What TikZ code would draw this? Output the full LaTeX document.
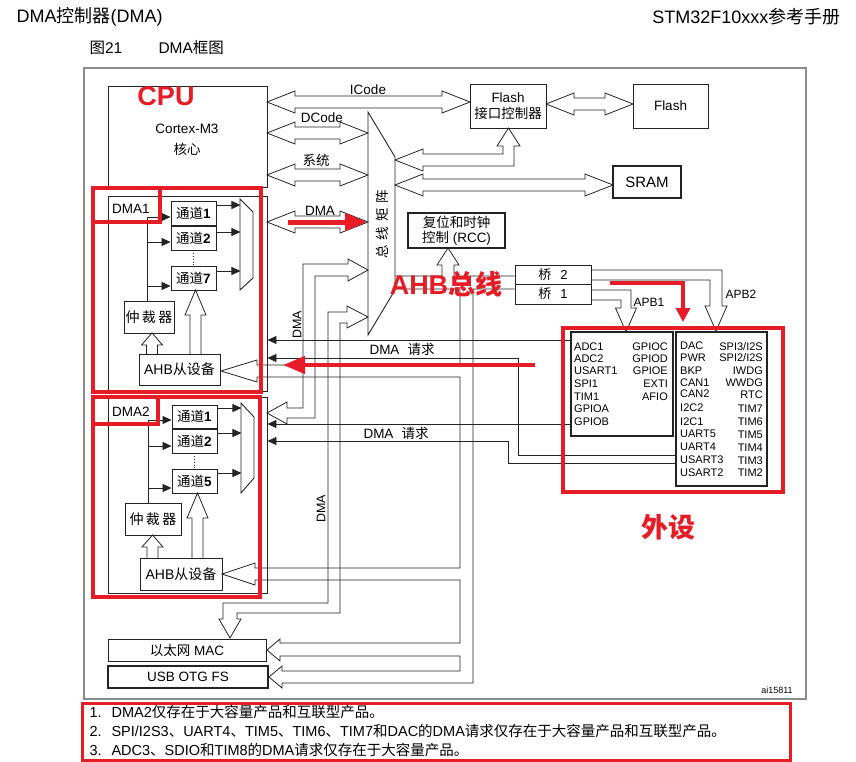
\documentclass[tikz,border=0pt]{standalone}
\usepackage{fontspec}
\setmainfont{Liberation Sans}
\newfontfamily\cjk{Noto Sans CJK SC}
\usepackage{tikz}
\usetikzlibrary{arrows.meta,positioning}
\definecolor{ink}{RGB}{35,35,35}
\definecolor{annot}{RGB}{230,28,38}
\definecolor{framegray}{RGB}{140,140,140}
\newcommand{\zh}[1]{{\cjk #1}}
\newcommand{\fsz}[1]{\fontsize{#1}{#1}\selectfont}
% hollow double arrow: left x, right x, y
\newcommand{\hdbl}[3]{\draw[bus] (#1,#3) -- ++(28,-11) -- ++(0,5) -- ({#2-28},{#3-6}) -- ++(0,-5) -- (#2,#3) -- ++(-28,11) -- ++(0,-5) -- ({#1+28},{#3+6}) -- ++(0,5) -- cycle;}
% hollow up arrow: x, bottom y, tip y, head length
\newcommand{\vup}[4]{\draw[bus] ({#1-5.5},#2) -- ({#1-5.5},{#3+#4}) -- ({#1-10.5},{#3+#4}) -- (#1,#3) -- ({#1+10.5},{#3+#4}) -- ({#1+5.5},{#3+#4}) -- ({#1+5.5},#2);}

\begin{document}
\begin{tikzpicture}[x=1pt,y=-1pt,
  box/.style={draw=ink,line width=0.9pt,inner sep=0pt},
  thickbox/.style={box,line width=1.6pt},
  bus/.style={draw=ink,line width=0.8pt,line join=miter},
  wire/.style={draw=ink,line width=0.8pt},
  ctl/.style={wire,-{Triangle[length=9pt,width=8pt]}},
  lbl/.style={font=\fsz{13.5},inner sep=0pt},
  per/.style={font=\fsz{11},inner sep=0pt},
  redline/.style={draw=annot,line width=3.5pt},
  redlbl/.style={text=annot,font=\fsz{27}\bfseries,inner sep=0pt}]
\useasboundingbox (0,0) rectangle (856,762);

% page header
\node[anchor=west,font=\fsz{18}] (headl) at (13,16.5) {DMA\zh{控制器}(DMA)};
\node[anchor=east,font=\fsz{18}] (headr) at (844,16.5) {STM32F10xxx\zh{参考手册}};
\node[anchor=west,font=\fsz{15.5}] (fignum) at (86,48) {\zh{图}21};
\node[anchor=west,font=\fsz{15.5}] (figttl) at (155,48) {DMA\zh{框图}};
\draw[framegray,line width=1.5pt] (84,68) rectangle (806,699);

% core, memories, matrix
\node[box,minimum width=159pt,minimum height=101pt] (cortex) at (187.5,136.5) {};
\node[lbl,align=center] (cortextxt) at (187,140) {Cortex-M3\\[8pt]\zh{核心}};
\node[box,minimum width=76pt,minimum height=44pt,align=center,font=\fsz{13.5}] (flashif) at (508,106) {Flash\\[3pt]\zh{接口控制器}};
\node[box,minimum width=75pt,minimum height=44pt,font=\fsz{13.5}] (flash) at (670.5,106) {Flash};
\node[thickbox,minimum width=68pt,minimum height=32pt,font=\fsz{15}] (sram) at (647,182) {SRAM};
\node[thickbox,minimum width=97pt,minimum height=35pt,align=center,font=\fsz{13.5}] (rcc) at (456.5,230.5) {\zh{复位和时钟}\\[2pt]\zh{控制} (RCC)};
\node[box,minimum width=76pt,minimum height=19pt,font=\fsz{13}] (bridge2) at (553,274.5) {\zh{桥}\hspace{9pt}2};
\node[box,minimum width=76pt,minimum height=20pt,font=\fsz{13}] (bridge1) at (553,294) {\zh{桥}\hspace{9pt}1};
\draw[box] (368,112) -- (395,157) -- (395,290) -- (368,335) -- cycle;
\node[lbl,rotate=90] (matrix) at (382,224) {\zh{总\hspace{5pt}线\hspace{5pt}矩\hspace{5pt}阵}};

\hdbl{267}{470}{102}
\hdbl{267}{368}{133}
\hdbl{267}{368}{175}
\hdbl{267}{368}{222}
\hdbl{546}{633}{104}
\hdbl{395}{613}{185}
\node[lbl] (icode) at (368,90) {ICode};
\node[lbl] (dcode) at (322,118) {DCode};
\node[lbl] (sysbus) at (316,160) {\zh{系统}};
\node[lbl] (dmabus) at (320,211) {DMA};
\draw[bus] (395,160) -- (423,149) -- (423,154) -- (503,154) -- (503,146) -- (497,146) -- (508.5,128) -- (520,146) -- (514,146) -- (514,166) -- (423,166) -- (423,171) -- cycle;

% AHB bus, RCC and bridges
\draw[bus] (395,276) -- (442,276) -- (442,265) -- (437,265) -- (448,248) -- (459,265) -- (454,265) -- (454,276) -- (bridge2.west |- 0,276);
\draw[bus] (395,289) -- (460,289) -- (460,365) -- (257,365) -- (257,360) -- (221,371) -- (257,382) -- (257,377) -- (460,377) -- (460,568) -- (255,568) -- (255,563) -- (222,574) -- (255,585) -- (255,580) -- (460,580) -- (460,643) -- (280,643) -- (280,639) -- (267,650) -- (280,661) -- (280,656) -- (460,656) -- (460,671) -- (282,671) -- (282,666) -- (269,677) -- (282,688) -- (282,683) -- (473,683) -- (473,289) -- (bridge1.west |- 0,289);
\draw[bus] (bridge2.east |- 0,270) -- (722,270) -- (722,306) -- (727,306) -- (716,331) -- (705,306) -- (710,306) -- (710,280) -- (bridge2.east |- 0,280);
\draw[bus] (bridge1.east |- 0,290) -- (631,290) -- (631,308) -- (636.5,308) -- (626,332) -- (615.5,308) -- (621,308) -- (621,300) -- (bridge1.east |- 0,300);
\node[font=\fsz{12},inner sep=0pt] (apb1lbl) at (649,302) {APB1};
\node[font=\fsz{12},inner sep=0pt] (apb2lbl) at (741,294) {APB2};

% DMA master buses
\draw[bus] (368,270) -- (348,259) -- (348,264) -- (303,264) -- (303,408) -- (287,408) -- (287,402) -- (267,413) -- (287,424) -- (287,418) -- (315,418) -- (315,276) -- (348,276) -- (348,281) -- cycle;
\draw[bus] (368,317) -- (347,306) -- (347,312) -- (328,312) -- (328,603) -- (223,603) -- (223,619) -- (219,619) -- (230,638) -- (241,619) -- (237,619) -- (237,613) -- (340,613) -- (340,323) -- (347,323) -- (347,328) -- cycle;
\node[lbl,rotate=90,font=\fsz{12.5}] (dmaA) at (297,325) {DMA};
\node[lbl,rotate=90,font=\fsz{12.5}] (dmaB) at (321,509) {DMA};

% DMA1
\node[box,minimum width=159pt,minimum height=195pt] (dma1) at (187.5,293.5) {};
\node[lbl,anchor=west] (dma1lbl) at (112,209) {DMA1};
\node[box,minimum width=45pt,minimum height=24pt,font=\fsz{13.5}] (c11) at (193.5,213) {\zh{通道}\textbf{1}};
\node[box,minimum width=45pt,minimum height=24pt,font=\fsz{13.5}] (c12) at (193.5,238) {\zh{通道}\textbf{2}};
\node[box,minimum width=45pt,minimum height=24pt,font=\fsz{13.5}] (c17) at (193.5,278) {\zh{通道}\textbf{7}};
\draw[wire,dotted] (c12.south) -- (c17.north);
\draw[box] (240,199) -- (253,212) -- (253,278) -- (240,290) -- cycle;
\draw[ctl] ([yshift=8pt]c11.east) -- ++(24,0);
\draw[ctl] ([yshift=6pt]c12.east) -- ++(24,0);
\draw[ctl] ([yshift=7pt]c17.east) -- ++(24,0);
\node[box,minimum width=50pt,minimum height=32pt,font=\fsz{14}] (arb1) at (149,317) {\zh{仲\,裁\,器}};
\draw[wire] (147,301) -- (147,217);
\draw[ctl] (147,217) -- (c11.west |- 0,217);
\draw[ctl] (147,242) -- (c12.west |- 0,242);
\draw[ctl] (147,286) -- (c17.west |- 0,286);
\node[box,minimum width=81pt,minimum height=31pt,font=\fsz{14}] (ahb1) at (179.5,369.5) {AHB\zh{从设备}};
\vup{152}{354}{333}{12}
\vup{195.5}{354}{290}{25}

% DMA2
\node[box,minimum width=159pt,minimum height=196pt] (dma2) at (187.5,495) {};
\node[lbl,anchor=west] (dma2lbl) at (112,412) {DMA2};
\node[box,minimum width=45pt,minimum height=23pt,font=\fsz{13.5}] (c21) at (194.5,416.5) {\zh{通道}\textbf{1}};
\node[box,minimum width=45pt,minimum height=24pt,font=\fsz{13.5}] (c22) at (194.5,441) {\zh{通道}\textbf{2}};
\node[box,minimum width=45pt,minimum height=24pt,font=\fsz{13.5}] (c25) at (194.5,481) {\zh{通道}\textbf{5}};
\draw[wire,dotted] (c22.south) -- (c25.north);
\draw[box] (241,403) -- (254,417) -- (254,478) -- (241,493) -- cycle;
\draw[ctl] ([yshift=8.5pt]c21.east) -- ++(24,0);
\draw[ctl] ([yshift=8pt]c22.east) -- ++(24,0);
\draw[ctl] ([yshift=8pt]c25.east) -- ++(24,0);
\node[box,minimum width=56pt,minimum height=32pt,font=\fsz{14}] (arb2) at (153,519) {\zh{仲\,裁\,器}};
\draw[wire] (148,503) -- (148,420);
\draw[ctl] (148,420) -- (c21.west |- 0,420);
\draw[ctl] (148,446) -- (c22.west |- 0,446);
\draw[ctl] (148,488) -- (c25.west |- 0,488);
\node[box,minimum width=82pt,minimum height=32pt,font=\fsz{14}] (ahb2) at (181,574) {AHB\zh{从设备}};
\vup{152.5}{558}{535}{12}
\vup{197.5}{558}{493}{25}

% Ethernet, USB
\node[box,minimum width=158pt,minimum height=22pt,font=\fsz{13.5}] (eth) at (187,650) {\zh{以太网} MAC};
\node[box,line width=1.3pt,minimum width=160pt,minimum height=22pt,font=\fsz{13.5}] (usb) at (188,677) {USB OTG FS};

% peripherals
\node[thickbox,minimum width=102pt,minimum height=104pt] (apb1) at (622,384) {};
\node[thickbox,minimum width=91pt,minimum height=154pt] (apb2) at (721.5,409) {};
\foreach \t/\y [count=\i] in {ADC1/347,ADC2/359,USART1/371,SPI1/384,TIM1/397,GPIOA/409,GPIOB/422}
  \node[per,anchor=west] (pa\i) at (574,\y) {\t};
\foreach \t/\y [count=\i] in {GPIOC/347,GPIOD/359,GPIOE/371,EXTI/384,AFIO/397}
  \node[per,anchor=east] (pb\i) at (668,\y) {\t};
\foreach \t/\y [count=\i] in {DAC/346,PWR/358,BKP/371,CAN1/383,CAN2/394,I2C2/408,I2C1/422,UART5/434,UART4/447,USART3/460,USART2/473}
  \node[per,anchor=west] (pc\i) at (680,\y) {\t};
\foreach \t/\y [count=\i] in {{SPI3/I2S}/347,{SPI2/I2S}/358,IWDG/371,WWDG/383,RTC/395,TIM7/409,TIM6/422,TIM5/435,TIM4/448,TIM3/461,TIM2/473}
  \node[per,anchor=east] (pd\i) at (763,\y) {\t};

% DMA requests
\draw[ctl] (apb1.west |- 0,340) -- (dma1.east |- 0,340);
\draw[ctl] (apb2.west |- 0,455) -| (518,358) -- (dma1.east |- 0,358);
\draw[ctl] (apb1.west |- 0,424) -- (dma2.east |- 0,424);
\draw[ctl] (apb2.west |- 0,463) -| (508,441) -- (dma2.east |- 0,441);
\node[lbl] (req1) at (402,349) {DMA\hspace{8pt}\zh{请求}};
\node[lbl] (req2) at (396,433) {DMA\hspace{8pt}\zh{请求}};
\node[font=\fsz{9},inner sep=0pt] (code) at (777,690) {ai15811};

% annotations
\draw[redline] (93,188) rectangle (261,392);
\draw[redline] (93,188) rectangle (160,222);
\draw[redline] (93,397) rectangle (260,597);
\draw[redline] (93,397) rectangle (158,424);
\draw[redline] (563,328) rectangle (783,492);
\draw[redline,line width=3pt] (82,703) rectangle (790,760);
\node[redlbl] (cpu) at (166,96) {CPU};
\node[redlbl] (ahbbus) at (446,284) {AHB\zh{总线}};
\node[redlbl] (periph) at (668,527) {\zh{外设}};
\draw[annot,line width=5pt,-{Triangle[length=22pt,width=17pt]}] (288,222) -- (367,222);
\draw[annot,line width=4.5pt,-{Triangle[length=22pt,width=17pt]}] (535,365) -- (283,365);
\draw[annot,line width=4pt,-{Triangle[length=14pt,width=14pt]}] (610,283) -| (683,322);

% notes
\node[anchor=base west,font=\fsz{14.5}] (n1) at (86,717) {1.};
\node[anchor=base west,font=\fsz{14.5}] (t1) at (108,717) {DMA2\zh{仅存在于大容量产品和互联型产品。}};
\node[anchor=base west,font=\fsz{14.5}] (n2) at (86,736) {2.};
\node[anchor=base west,font=\fsz{14.5}] (t2) at (108,736) {SPI/I2S3\zh{、}UART4\zh{、}TIM5\zh{、}TIM6\zh{、}TIM7\zh{和}DAC\zh{的}DMA\zh{请求仅存在于大容量产品和互联型产品。}};
\node[anchor=base west,font=\fsz{14.5}] (n3) at (86,755) {3.};
\node[anchor=base west,font=\fsz{14.5}] (t3) at (108,755) {ADC3\zh{、}SDIO\zh{和}TIM8\zh{的}DMA\zh{请求仅存在于大容量产品。}};
\end{tikzpicture}
\end{document}
